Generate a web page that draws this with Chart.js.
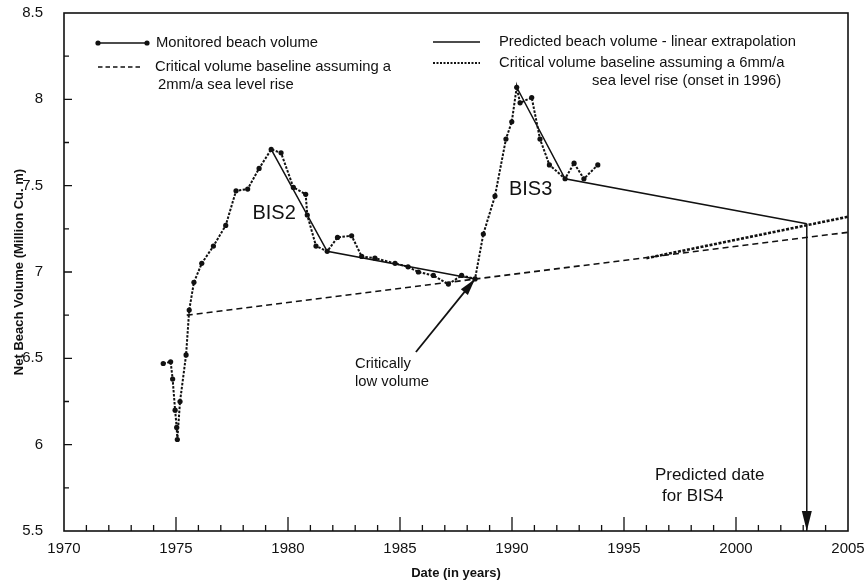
<!DOCTYPE html>
<html>
<head>
<meta charset="utf-8">
<script src="https://cdn.jsdelivr.net/npm/chart.js@4.4.1/dist/chart.umd.min.js"></script>
<style>
  html, body { margin: 0; padding: 0; background: #ffffff; }
  #wrap { width: 864px; height: 582px; }
</style>
</head>
<body>
<div id="wrap"><canvas id="chart" width="864" height="582"></canvas></div>
<script>
// Monitored net beach volume (million cubic metres) by survey date
const surveyYears = [
  1974.43, 1974.76, 1974.85, 1974.96, 1975.03, 1975.06, 1975.18, 1975.45,
  1975.59, 1975.80, 1976.15, 1976.67, 1977.22, 1977.68, 1978.20, 1978.71,
  1979.25, 1979.69, 1980.24, 1980.79, 1980.86, 1981.25, 1981.75, 1982.21,
  1982.84, 1983.29, 1983.88, 1984.78, 1985.36, 1985.82, 1986.49, 1987.16,
  1987.75, 1988.35, 1988.72, 1989.24, 1989.73, 1989.99, 1990.21, 1990.36,
  1990.88, 1991.25, 1991.67, 1992.37, 1992.77, 1993.21, 1993.83
];
const surveyVolume = [
  6.47, 6.48, 6.38, 6.20, 6.10, 6.03, 6.25, 6.52,
  6.78, 6.94, 7.05, 7.15, 7.27, 7.47, 7.48, 7.60,
  7.71, 7.69, 7.49, 7.45, 7.33, 7.15, 7.12, 7.20,
  7.21, 7.09, 7.08, 7.05, 7.03, 7.00, 6.98, 6.93,
  6.98, 6.96, 7.22, 7.44, 7.77, 7.87, 8.07, 7.98,
  8.01, 7.77, 7.62, 7.54, 7.63, 7.54, 7.62
];

// Linear extrapolations after the BIS2 and BIS3 nourishments
const bis2Years = [1979.25, 1981.75, 1988.35];
const bis2Volume = [7.71, 7.12, 6.96];
const bis3Years = [1990.21, 1992.37, 2003.16];
const bis3Volume = [8.07, 7.54, 7.28];

// Critical volume baselines
const base2Years = [1975.48, 2005];
const base2Volume = [6.75, 7.23];
const base6Years = [1996, 2005];
const base6Volume = [7.08, 7.32];

// Predicted date for the next nourishment (BIS4)
const bis4Year = 2003.16;

// Axis tick labels
const xTickLabels = [1970, 1975, 1980, 1985, 1990, 1995, 2000, 2005];
const yTickLabels = [5.5, 6, 6.5, 7, 7.5, 8, 8.5];

const FONT = '"Liberation Sans", Arial, Helvetica, sans-serif';
const INK = '#111111';

const zip = (xs, ys) => xs.map((x, i) => ({ x: x, y: ys[i] }));

// Inward tick marks and the closed plot frame
const framePlugin = {
  id: 'frame',
  beforeDatasetsDraw(chart) {
    const { ctx, chartArea: a, scales: { x, y } } = chart;
    ctx.save();
    ctx.strokeStyle = INK;
    ctx.lineWidth = 1.3;
    ctx.beginPath();
    for (let yr = xTickLabels[0] + 1; yr < xTickLabels[xTickLabels.length - 1]; yr++) {
      const px = x.getPixelForValue(yr);
      const len = yr % 5 === 0 ? 14 : 6;
      ctx.moveTo(px, a.bottom);
      ctx.lineTo(px, a.bottom - len);
    }
    for (let v = yTickLabels[0] + 0.25; v < yTickLabels[yTickLabels.length - 1]; v += 0.25) {
      const py = y.getPixelForValue(v);
      const len = Math.abs(v * 2 - Math.round(v * 2)) < 1e-6 ? 8 : 5;
      ctx.moveTo(a.left, py);
      ctx.lineTo(a.left + len, py);
    }
    ctx.stroke();
    ctx.lineWidth = 1.6;
    ctx.strokeRect(a.left, a.top, a.right - a.left, a.bottom - a.top);
    ctx.restore();
  }
};

function arrowHead(ctx, fromX, fromY, tipX, tipY, len, width) {
  const ang = Math.atan2(tipY - fromY, tipX - fromX);
  const bx = tipX - len * Math.cos(ang);
  const by = tipY - len * Math.sin(ang);
  const nx = -Math.sin(ang) * width / 2;
  const ny = Math.cos(ang) * width / 2;
  ctx.beginPath();
  ctx.moveTo(tipX, tipY);
  ctx.lineTo(bx + nx, by + ny);
  ctx.lineTo(bx - nx, by - ny);
  ctx.closePath();
  ctx.fill();
}

// Labels and arrows placed in data coordinates
const notes = {
  bis2: { x: 1979.38, y: 7.34 },
  bis3: { x: 1990.83, y: 7.475 },
  lowText: { x: 1982.99, y1: 6.467, y2: 6.363 },
  lowArrowFrom: { x: 1985.71, y: 6.537 },
  bis4Text: { x1: 1996.38, x2: 1996.70, y1: 5.824, y2: 5.70 }
};

const annotationPlugin = {
  id: 'annotations',
  afterDatasetsDraw(chart) {
    const { ctx, scales: { x, y } } = chart;
    ctx.save();
    ctx.fillStyle = INK;
    ctx.strokeStyle = INK;
    ctx.textBaseline = 'middle';

    ctx.font = '20px ' + FONT;
    ctx.textAlign = 'center';
    ctx.fillText('BIS2', x.getPixelForValue(notes.bis2.x), y.getPixelForValue(notes.bis2.y));
    ctx.fillText('BIS3', x.getPixelForValue(notes.bis3.x), y.getPixelForValue(notes.bis3.y));

    ctx.font = '14.8px ' + FONT;
    ctx.textAlign = 'left';
    const lx = x.getPixelForValue(notes.lowText.x);
    ctx.fillText('Critically', lx, y.getPixelForValue(notes.lowText.y1));
    ctx.fillText('low volume', lx, y.getPixelForValue(notes.lowText.y2));

    // arrow to the critically low point
    const fx = x.getPixelForValue(notes.lowArrowFrom.x);
    const fy = y.getPixelForValue(notes.lowArrowFrom.y);
    const tx = x.getPixelForValue(bis2Years[bis2Years.length - 1]);
    const ty = y.getPixelForValue(bis2Volume[bis2Volume.length - 1]);
    ctx.lineWidth = 1.8;
    ctx.beginPath();
    ctx.moveTo(fx, fy);
    ctx.lineTo(tx, ty);
    ctx.stroke();
    arrowHead(ctx, fx, fy, tx, ty, 17, 9);

    // arrow head of the BIS4 date marker
    const vx = x.getPixelForValue(bis4Year);
    const vTop = y.getPixelForValue(bis3Volume[bis3Volume.length - 1]);
    const vBot = y.getPixelForValue(yTickLabels[0]);
    arrowHead(ctx, vx, vTop, vx, vBot, 20, 10);

    ctx.font = '17px ' + FONT;
    ctx.fillText('Predicted date', x.getPixelForValue(notes.bis4Text.x1), y.getPixelForValue(notes.bis4Text.y1));
    ctx.fillText('for BIS4', x.getPixelForValue(notes.bis4Text.x2), y.getPixelForValue(notes.bis4Text.y2));
    ctx.restore();
  }
};

// Two-column key inside the plot
const keyPlugin = {
  id: 'key',
  afterDraw(chart) {
    const { ctx } = chart;
    ctx.save();
    ctx.fillStyle = INK;
    ctx.strokeStyle = INK;
    ctx.textBaseline = 'middle';
    ctx.textAlign = 'left';
    ctx.font = '14.8px ' + FONT;

    // monitored
    ctx.lineWidth = 1.6;
    ctx.setLineDash([]);
    ctx.beginPath(); ctx.moveTo(98, 43); ctx.lineTo(147, 43); ctx.stroke();
    [98, 147].forEach(px => { ctx.beginPath(); ctx.arc(px, 43, 2.6, 0, Math.PI * 2); ctx.fill(); });
    ctx.fillText('Monitored beach volume', 156, 43);

    // 2 mm/a baseline
    ctx.lineWidth = 1.5;
    ctx.setLineDash([4.5, 3]);
    ctx.beginPath(); ctx.moveTo(98, 67); ctx.lineTo(142, 67); ctx.stroke();
    ctx.setLineDash([]);
    ctx.fillText('Critical volume baseline assuming a', 155, 67);
    ctx.fillText('2mm/a sea level rise', 158, 85);

    // extrapolation
    ctx.lineWidth = 1.5;
    ctx.beginPath(); ctx.moveTo(433, 42); ctx.lineTo(480, 42); ctx.stroke();
    ctx.fillText('Predicted beach volume - linear extrapolation', 499, 42);

    // 6 mm/a baseline
    ctx.lineWidth = 2.2;
    ctx.setLineDash([2, 1.5]);
    ctx.beginPath(); ctx.moveTo(433, 63); ctx.lineTo(480, 63); ctx.stroke();
    ctx.setLineDash([]);
    ctx.fillText('Critical volume baseline assuming a 6mm/a', 499, 63);
    ctx.fillText('sea level rise (onset in 1996)', 592, 81);
    ctx.restore();
  }
};

new Chart(document.getElementById('chart'), {
  type: 'scatter',
  data: {
    datasets: [
      {
        label: 'Monitored beach volume',
        data: zip(surveyYears, surveyVolume),
        showLine: true,
        borderColor: INK,
        borderWidth: 2,
        borderDash: [2.5, 1.5],
        pointRadius: 2.6,
        pointBorderWidth: 0,
        pointBackgroundColor: INK,
        order: 0
      },
      {
        label: 'Predicted beach volume - linear extrapolation',
        data: zip(bis2Years, bis2Volume),
        showLine: true, borderColor: INK, borderWidth: 1.5, pointRadius: 0, order: 1
      },
      {
        label: 'Predicted beach volume - linear extrapolation',
        data: zip(bis3Years, bis3Volume),
        showLine: true, borderColor: INK, borderWidth: 1.5, pointRadius: 0, order: 1
      },
      {
        label: 'Critical volume baseline assuming a 2mm/a sea level rise',
        data: zip(base2Years, base2Volume),
        showLine: true, borderColor: INK, borderWidth: 1.6, borderDash: [6, 4], pointRadius: 0, order: 2
      },
      {
        label: 'Critical volume baseline assuming a 6mm/a sea level rise (onset in 1996)',
        data: zip(base6Years, base6Volume),
        showLine: true, borderColor: INK, borderWidth: 2.6, borderDash: [3, 1.6], pointRadius: 0, order: 2
      },
      {
        label: 'Predicted date for BIS4',
        data: [
          { x: bis4Year, y: bis3Volume[bis3Volume.length - 1] },
          { x: bis4Year, y: yTickLabels[0] }
        ],
        showLine: true, borderColor: INK, borderWidth: 1.5, pointRadius: 0, order: 1
      }
    ]
  },
  options: {
    responsive: false,
    animation: false,
    devicePixelRatio: 1,
    layout: { padding: { top: 13, right: 16, left: 0, bottom: 0 } },
    plugins: { legend: { display: false }, tooltip: { enabled: false } },
    scales: {
      x: {
        type: 'linear',
        min: xTickLabels[0],
        max: xTickLabels[xTickLabels.length - 1],
        afterBuildTicks: s => { s.ticks = xTickLabels.map(v => ({ value: v })); },
        afterFit: s => { s.height = 51; s.paddingLeft = 0; s.paddingRight = 0; },
        grid: { display: false, drawTicks: false },
        border: { display: false },
        ticks: {
          callback: v => String(v),
          color: INK, padding: 9, maxRotation: 0, autoSkip: false,
          font: { family: FONT, size: 15 }
        },
        title: {
          display: true, text: 'Date (in years)', color: INK,
          font: { family: FONT, size: 13, weight: 'bold' },
          padding: { top: 0, bottom: 1 }
        }
      },
      y: {
        type: 'linear',
        min: yTickLabels[0],
        max: yTickLabels[yTickLabels.length - 1],
        afterBuildTicks: s => { s.ticks = yTickLabels.map(v => ({ value: v })); },
        afterFit: s => { s.width = 64; s.paddingTop = 0; s.paddingBottom = 0; },
        grid: { display: false, drawTicks: false },
        border: { display: false },
        ticks: {
          callback: v => String(v),
          color: INK, padding: 21,
          font: { family: FONT, size: 15 }
        },
        title: {
          display: true, text: 'Net Beach Volume (Million Cu. m)', color: INK,
          font: { family: FONT, size: 13, weight: 'bold' },
          padding: { top: 12, bottom: 0 }
        }
      }
    }
  },
  plugins: [framePlugin, annotationPlugin, keyPlugin]
});
</script>
</body>
</html>
